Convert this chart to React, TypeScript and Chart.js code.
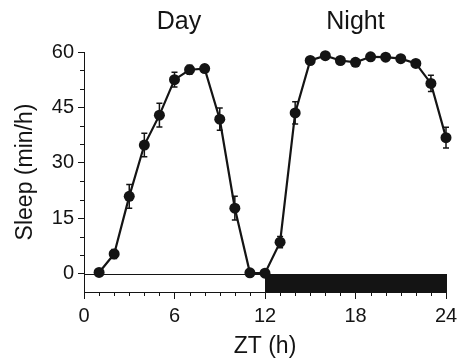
import React, { useEffect, useRef } from "react";
import { Chart, registerables } from "chart.js";

Chart.register(...registerables);

const zt = [1, 2, 3, 4, 5, 6, 7, 8, 9, 10, 11, 12, 13, 14, 15, 16, 17, 18, 19, 20, 21, 22, 23, 24];
const sleep = [0.3, 5.3, 20.9, 34.8, 42.9, 52.5, 55.2, 55.5, 41.8, 17.7, 0.2, 0.1, 8.5, 43.5, 57.7, 59.0, 57.7, 57.2, 58.7, 58.6, 58.2, 56.9, 51.5, 36.8];
const sem = [0.3, 1.2, 3.2, 3.2, 3.2, 2.0, 1.2, 1.0, 3.0, 3.2, 0.3, 0.3, 1.5, 3.0, 0.8, 0.6, 0.8, 0.8, 0.6, 0.6, 0.6, 0.8, 2.2, 2.8];
const xTicks = [0, 6, 12, 18, 24];
const yTicks = [0, 15, 30, 45, 60];
const phaseLabels = ["Day", "Night"];
const phaseLabelAt = [6.3, 18];
const phaseStart = [0, 12];
const phaseEnd = [12, 24];
const phaseDark = [false, true];

const FONT = 'Arial, "Liberation Sans", Helvetica, sans-serif';
const INK = "#141414";

const decor = {
  id: "decor",
  beforeDatasetsDraw(chart: any) {
    const { ctx, scales } = chart;
    const x = scales.x, y = scales.y;
    ctx.save();
    const y0 = Math.round(y.getPixelForValue(0));
    const yb = Math.round(y.getPixelForValue(y.min));
    phaseStart.forEach((s, i) => {
      const x1 = Math.round(x.getPixelForValue(s));
      const x2 = Math.round(x.getPixelForValue(phaseEnd[i]));
      if (phaseDark[i]) {
        ctx.fillStyle = INK;
        ctx.fillRect(x1, y0, x2 - x1 + 1, yb - y0);
      } else {
        ctx.strokeStyle = INK;
        ctx.lineWidth = 1;
        ctx.strokeRect(x1 + 0.5, y0 + 0.5, x2 - x1, yb - y0);
      }
    });
    ctx.strokeStyle = INK;
    ctx.lineWidth = 1.5;
    zt.forEach((t, i) => {
      const px = x.getPixelForValue(t);
      const hi = y.getPixelForValue(sleep[i] + sem[i]);
      const lo = y.getPixelForValue(sleep[i] - sem[i]);
      ctx.beginPath();
      ctx.moveTo(px, hi);
      ctx.lineTo(px, lo);
      ctx.moveTo(px - 3, hi);
      ctx.lineTo(px + 3, hi);
      ctx.moveTo(px - 3, lo);
      ctx.lineTo(px + 3, lo);
      ctx.stroke();
    });
    ctx.restore();
  },
  afterDraw(chart: any) {
    const { ctx, scales } = chart;
    const x = scales.x, y = scales.y;
    ctx.save();
    ctx.strokeStyle = INK;
    ctx.lineWidth = 1;
    const yb = Math.round(y.getPixelForValue(y.min));
    const xl = Math.round(x.left);
    ctx.beginPath();
    for (let t = Math.ceil(x.min); t <= x.max; t++) {
      if (xTicks.includes(t)) continue;
      const px = Math.round(x.getPixelForValue(t)) + 0.5;
      ctx.moveTo(px, yb);
      ctx.lineTo(px, yb + 4);
    }
    for (let v = y.min + 5; v <= y.max; v += 5) {
      if (yTicks.includes(v)) continue;
      const py = Math.round(y.getPixelForValue(v)) + 0.5;
      ctx.moveTo(xl - 4, py);
      ctx.lineTo(xl, py);
    }
    ctx.stroke();
    ctx.fillStyle = INK;
    ctx.font = `25px ${FONT}`;
    ctx.textAlign = "center";
    ctx.textBaseline = "alphabetic";
    phaseLabels.forEach((lab, i) => {
      ctx.fillText(lab, x.getPixelForValue(phaseLabelAt[i]), 29);
    });
    ctx.restore();
  },
};

export default function App() {
  const ref = useRef<HTMLCanvasElement | null>(null);
  useEffect(() => {
    if (!ref.current) return;
    const chart = new Chart(ref.current, {
      type: "line",
      data: {
        datasets: [
          {
            data: zt.map((t, i) => ({ x: t, y: sleep[i] })),
            borderColor: INK,
            backgroundColor: INK,
            borderWidth: 2.2,
            pointRadius: 5.5,
            pointBackgroundColor: INK,
            pointBorderColor: INK,
            pointBorderWidth: 0,
            tension: 0,
            clip: false,
          },
        ],
      },
      options: {
        animation: false,
        responsive: false,
        maintainAspectRatio: false,
        layout: { padding: { top: 52, right: 0, left: 0, bottom: 0 } },
        plugins: { legend: { display: false }, tooltip: { enabled: false } },
        scales: {
          x: {
            type: "linear",
            min: 0,
            max: 24,
            afterBuildTicks: (s: any) => {
              s.ticks = xTicks.map((v) => ({ value: v }));
            },
            afterFit: (s: any) => {
              s.height = 71;
              s.paddingLeft = 0;
              s.paddingRight = 11;
            },
            ticks: {
              color: INK,
              font: { family: FONT, size: 20 },
              padding: 5,
              maxRotation: 0,
              autoSkip: false,
            },
            grid: { display: true, drawOnChartArea: false, drawTicks: true, tickLength: 7, tickColor: INK, tickWidth: 1 },
            border: { display: true, color: INK, width: 1 },
            title: {
              display: true,
              text: "ZT (h)",
              color: INK,
              font: { family: FONT, size: 23 },
              padding: { top: 0, bottom: 3 },
            },
          },
          y: {
            type: "linear",
            min: -5,
            max: 60,
            afterBuildTicks: (s: any) => {
              s.ticks = yTicks.map((v) => ({ value: v }));
            },
            afterFit: (s: any) => {
              s.width = 84;
            },
            ticks: {
              color: INK,
              font: { family: FONT, size: 20 },
              padding: 4,
              autoSkip: false,
            },
            grid: { display: true, drawOnChartArea: false, drawTicks: true, tickLength: 6, tickColor: INK, tickWidth: 1 },
            border: { display: true, color: INK, width: 1 },
            title: {
              display: true,
              text: "Sleep (min/h)",
              color: INK,
              font: { family: FONT, size: 23 },
              padding: { top: 12, bottom: 0 },
            },
          },
        },
      },
      plugins: [decor],
    } as any);
    return () => chart.destroy();
  }, []);
  return (
    <div style={{ position: "fixed", left: 0, top: 0, width: 457, height: 363, background: "#fff" }}>
      <canvas ref={ref} width={457} height={363} style={{ display: "block" }} />
    </div>
  );
}
